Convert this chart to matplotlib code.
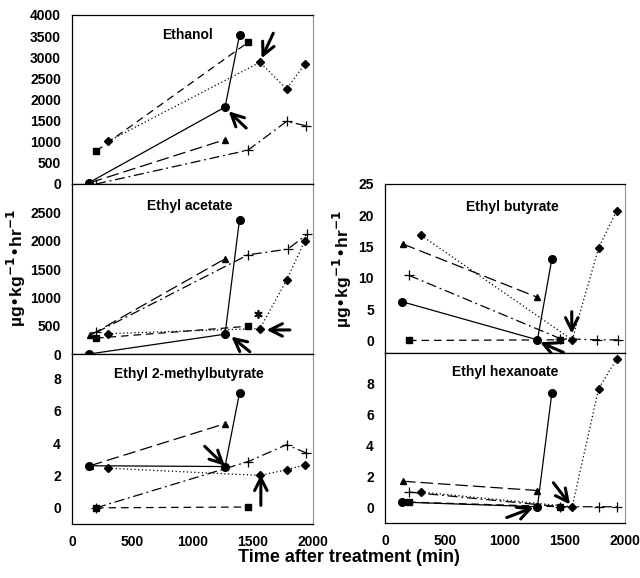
import numpy as np
from matplotlib import pyplot as plt

plt.rcParams['font.family'] = ['Liberation Sans', 'DejaVu Sans']
plt.rcParams['font.weight'] = 'bold'

# Ethanol
eth_circle = ([140, 1270, 1390], [30, 1820, 3520])
eth_square = ([200, 1460], [780, 3350])
eth_diamond = ([300, 1560, 1780, 1930], [1010, 2880, 2250, 2830])
eth_triangle = ([150, 1270], [30, 1050])
eth_plus = ([200, 1460, 1780, 1940], [0, 800, 1480, 1380])

# Ethyl acetate
ea_circle = ([140, 1270, 1390], [0, 350, 2370])
ea_square = ([200, 1460], [280, 490])
ea_diamond = ([300, 1560, 1780, 1930], [360, 450, 1300, 1990])
ea_triangle = ([150, 1270], [330, 1680])
ea_plus = ([200, 1460, 1790, 1950], [380, 1750, 1850, 2110])

# Ethyl 2-methylbutyrate
emb_circle = ([140, 1270, 1390], [2.6, 2.55, 7.1])
emb_square = ([200, 1460], [0, 0.05])
emb_diamond = ([300, 1560, 1780, 1930], [2.45, 2.0, 2.35, 2.65])
emb_triangle = ([150, 1270], [2.6, 5.2])
emb_plus = ([200, 1460, 1780, 1940], [0, 2.85, 3.9, 3.4])

# Ethyl butyrate
eb_circle = ([140, 1270, 1390], [6.2, 0.1, 13.0])
eb_square = ([200, 1460], [0, 0.1])
eb_diamond = ([300, 1560, 1780, 1930], [16.8, 0.1, 14.8, 20.7])
eb_triangle = ([150, 1270], [15.4, 6.9])
eb_plus = ([200, 1460, 1770, 1940], [10.4, 0.3, 0.1, 0.1])

# Ethyl hexanoate
eh_circle = ([140, 1270, 1390], [0.35, 0.05, 7.4])
eh_square = ([200, 1460], [0.35, 0.05])
eh_diamond = ([300, 1560, 1780, 1930], [1.0, 0.05, 7.7, 9.6])
eh_triangle = ([150, 1270], [1.7, 1.1])
eh_plus = ([200, 1460, 1780, 1930], [1.0, 0.05, 0.05, 0.05])

styles = {
    'circle': dict(marker='o', ms=5.5, ls='-'),
    'square': dict(marker='s', ms=4, ls=(0, (6, 4))),
    'diamond': dict(marker='D', ms=4.5, ls=(0, (1, 2))),
    'triangle': dict(marker='^', ms=5, ls=(0, (10, 4))),
    'plus': dict(marker='+', ms=7, mew=0.9, ls=(0, (8, 3, 1.5, 3))),
}

fig = plt.figure(figsize=(6.4, 5.78), dpi=100)
ax_eth = fig.add_axes([0.1125, 0.6817, 0.3766, 0.2924])
ax_ea = fig.add_axes([0.1125, 0.3875, 0.3766, 0.2942])
ax_emb = fig.add_axes([0.1125, 0.0934, 0.3766, 0.2941])
ax_eb = fig.add_axes([0.6016, 0.3893, 0.375, 0.2924])
ax_eh = fig.add_axes([0.6016, 0.0952, 0.375, 0.2941])

panels = [
    (ax_eth, 'Ethanol', [eth_circle, eth_square, eth_diamond, eth_triangle, eth_plus],
     (0, 4000), np.arange(0, 4001, 500), (0.48, 0.88)),
    (ax_ea, 'Ethyl acetate', [ea_circle, ea_square, ea_diamond, ea_triangle, ea_plus],
     (0, 3000), np.arange(0, 2501, 500), (0.49, 0.87)),
    (ax_emb, 'Ethyl 2-methylbutyrate', [emb_circle, emb_square, emb_diamond, emb_triangle, emb_plus],
     (-1, 9.5), np.arange(0, 9, 2), (0.485, 0.88)),
    (ax_eb, 'Ethyl butyrate', [eb_circle, eb_square, eb_diamond, eb_triangle, eb_plus],
     (-2, 25), np.arange(0, 26, 5), (0.53, 0.865)),
    (ax_eh, 'Ethyl hexanoate', [eh_circle, eh_square, eh_diamond, eh_triangle, eh_plus],
     (-1, 10), np.arange(0, 9, 2), (0.50, 0.89)),
]

names = ['circle', 'square', 'diamond', 'triangle', 'plus']
for ax, title, series, ylim, yticks, tpos in panels:
    for name, (t, v) in zip(names, series):
        ax.plot(t, v, color='black', lw=0.9, clip_on=False, **styles[name])
    ax.set_xlim(0, 2000)
    ax.set_ylim(*ylim)
    ax.set_yticks(yticks)
    ax.set_xticks([0, 500, 1000, 1500, 2000])
    ax.tick_params(length=0, labelsize=10, pad=8)
    for lab in ax.get_yticklabels() + ax.get_xticklabels():
        lab.set_fontweight('bold')
    ax.text(tpos[0], tpos[1], title, transform=ax.transAxes, ha='center', va='center',
            fontsize=10, fontweight='bold')
    for s in ax.spines.values():
        s.set_linewidth(0.9)
    ax.spines['right'].set_color('0.6')

for ax in [ax_eth, ax_ea, ax_eb]:
    ax.set_xticklabels([])

# arrows (tip, tail) in data units
arrows = [
    (ax_eth, (1300, 1720), (1445, 1325)),
    (ax_eth, (1573, 2975), (1670, 3567)),
    (ax_ea, (1322, 307), (1476, 41)),
    (ax_ea, (1614, 425), (1808, 425)),
    (ax_emb, (1268, 2.6), (1101, 3.8)),
    (ax_emb, (1567, 2.05), (1567, 0.15)),
    (ax_eb, (1556, 1.1), (1556, 4.6)),
    (ax_eb, (1292, -0.3), (1486, -1.9)),
    (ax_eh, (1542, 0.2), (1403, 1.6)),
    (ax_eh, (1236, 0.0), (1014, -0.65)),
]
for ax, tip, tail in arrows:
    ax.annotate('', xy=tip, xytext=tail,
                arrowprops=dict(arrowstyle='->, head_length=0.9, head_width=0.45',
                                lw=2.2, color='black', shrinkA=0, shrinkB=0),
                annotation_clip=False)

ax_ea.plot([1545], [710], marker=(6, 2, 0), ms=6, color='black', mew=1.2)

ylab = 'µg•kg$^{\\mathbf{-1}}$•hr$^{\\mathbf{-1}}$'
fig.text(0.026, 0.536, ylab, rotation=90, ha='center', va='center', fontsize=12.5, fontweight='bold')
fig.text(0.535, 0.535, ylab, rotation=90, ha='center', va='center', fontsize=12.5, fontweight='bold')
fig.text(0.545, 0.035, 'Time after treatment (min)', ha='center', va='center',
         fontsize=13, fontweight='bold')

plt.savefig('out.png', dpi=100)
